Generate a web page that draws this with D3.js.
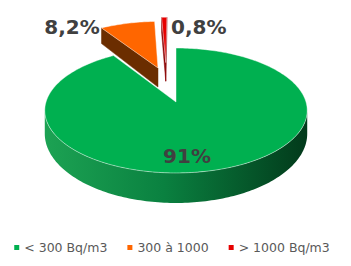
<!DOCTYPE html>
<html lang="fr">
<head>
<meta charset="utf-8">
<title>Radon</title>
<script src="https://cdn.jsdelivr.net/npm/d3@7"></script>
<style>
  body { margin: 0; background: #fff; }
  svg { display: block; }
</style>
</head>
<body>
<script>
// data
var categories = ["< 300 Bq/m3", "300 à 1000", "> 1000 Bq/m3"];
var values = [91, 8.2, 0.8];
var labels = ["91%", "8,2%", "0,8%"];

// styles
var topColors = ["#00b050", "#ff6600", "#e60000"];
var cutColors = ["#0a6e33", "#6b2d00", "#8a0000"];
var wallColors = ["url(#gWall)", "#b34700", "#900000"];
var explode = [0, 0.62, 0.71];        // in radius units
var explodeDir = [0, 346, 353];       // degrees, clockwise from top
var labelAt = [[174.5, 0.79, "middle"], [334.4, 1.63, "end"], [358.2, 1.47, "start"]];

var W = 351, H = 266;
var cx = 176, cy = 102, sx = 130, sy = 61.3, k = 0.136, D = 22.4;

var svg = d3.select("body").append("svg")
  .attr("width", W).attr("height", H);

var defs = svg.append("defs");
var g = defs.append("linearGradient").attr("id", "gWall")
  .attr("gradientUnits", "userSpaceOnUse")
  .attr("x1", 46).attr("x2", 307).attr("y1", 0).attr("y2", 0);
g.append("stop").attr("offset", 0).attr("stop-color", "#1ca253");
g.append("stop").attr("offset", 0.45).attr("stop-color", "#0a8140");
g.append("stop").attr("offset", 1).attr("stop-color", "#023a1b");

// simple perspective projection: X right, Z away from viewer, h = 0 top / 1 bottom
function proj(X, Z, h) {
  var w = 1 + k * Z;
  return [cx + sx * X / w, cy - sy * Z / w + h * D / (w * w)];
}

var pie = d3.pie().sort(null).value(function(d) { return d; });
var arcs = pie(values);

var line = d3.line().curve(d3.curveLinearClosed);

function arcPts(a0, a1, ox, oz, h) {
  var n = Math.max(2, Math.ceil((a1 - a0) / 0.02));
  var pts = [];
  for (var i = 0; i <= n; i++) {
    var a = a0 + (a1 - a0) * i / n;
    pts.push(proj(ox + Math.sin(a), oz + Math.cos(a), h));
  }
  return pts;
}

var slices = arcs.map(function(a, i) {
  var dir = explodeDir[i] * Math.PI / 180;
  return {
    i: i, a0: a.startAngle, a1: a.endAngle,
    ox: explode[i] * Math.sin(dir), oz: explode[i] * Math.cos(dir),
    mid: Math.cos((a.startAngle + a.endAngle) / 2) + explode[i] * Math.cos(dir)
  };
});

// far slices first
slices.sort(function(a, b) { return b.mid - a.mid; });

var camZ = -1 / k;
var visA = Math.acos(-k), visB = 2 * Math.PI - Math.acos(-k);

slices.forEach(function(s) {
  var grp = svg.append("g");
  var i = s.i;

  // radial cut faces
  [[s.a0, -1], [s.a1, 1]].forEach(function(f) {
    var a = f[0], sg = f[1];
    var nx = sg * Math.cos(a), nz = -sg * Math.sin(a);
    if (nx * (0 - s.ox) + nz * (camZ - s.oz) <= 0.001) return;
    var pts = [
      proj(s.ox, s.oz, 0),
      proj(s.ox + Math.sin(a), s.oz + Math.cos(a), 0),
      proj(s.ox + Math.sin(a), s.oz + Math.cos(a), 1),
      proj(s.ox, s.oz, 1)
    ];
    grp.append("path").attr("d", line(pts)).attr("fill", cutColors[i])
      .attr("stroke", cutColors[i]).attr("stroke-width", 0.5);
  });

  // outer wall
  var w0 = Math.max(s.a0, visA), w1 = Math.min(s.a1, visB);
  if (w1 > w0) {
    var top = arcPts(w0, w1, s.ox, s.oz, 0);
    var bot = arcPts(w0, w1, s.ox, s.oz, 1).reverse();
    grp.append("path").attr("d", line(top.concat(bot))).attr("fill", wallColors[i]);
  }

  // top face
  var tp = [proj(s.ox, s.oz, 0)].concat(arcPts(s.a0, s.a1, s.ox, s.oz, 0));
  grp.append("path").attr("d", line(tp)).attr("fill", topColors[i])
    .attr("stroke", "rgba(255,255,255,0.55)").attr("stroke-width", 0.8)
    .attr("stroke-linejoin", "round");
});

// data labels
svg.selectAll("text.lbl")
  .data(labels)
  .enter().append("text")
  .attr("class", "lbl")
  .attr("x", function(d, i) {
    var a = labelAt[i][0] * Math.PI / 180, r = labelAt[i][1];
    return proj(r * Math.sin(a), r * Math.cos(a), 0)[0];
  })
  .attr("y", function(d, i) {
    var a = labelAt[i][0] * Math.PI / 180, r = labelAt[i][1];
    return proj(r * Math.sin(a), r * Math.cos(a), 0)[1];
  })
  .attr("dy", "0.36em")
  .attr("text-anchor", function(d, i) { return labelAt[i][2]; })
  .attr("font-family", "DejaVu Sans, Verdana, sans-serif")
  .attr("font-weight", "bold")
  .attr("font-size", "20px")
  .attr("fill", "#404040")
  .text(function(d) { return d; });

// legend
var legend = svg.append("g").attr("transform", "translate(0,248)");
var items = legend.selectAll("g")
  .data(categories)
  .enter().append("g");
items.append("rect")
  .attr("y", -3).attr("width", 5).attr("height", 5)
  .attr("fill", function(d, i) { return topColors[i]; });
items.append("text")
  .attr("x", 10).attr("dy", "0.35em")
  .attr("font-family", "DejaVu Sans, Verdana, sans-serif")
  .attr("font-size", "12.5px")
  .attr("fill", "#595959")
  .text(function(d) { return d; });

var xPos = 0, offs = [];
items.each(function() {
  offs.push(xPos);
  xPos += 10 + d3.select(this).select("text").node().getComputedTextLength() + 20;
});
var total = xPos - 20;
var start = 172 - total / 2;
items.attr("transform", function(d, i) { return "translate(" + (start + offs[i]) + ",0)"; });
</script>
</body>
</html>
